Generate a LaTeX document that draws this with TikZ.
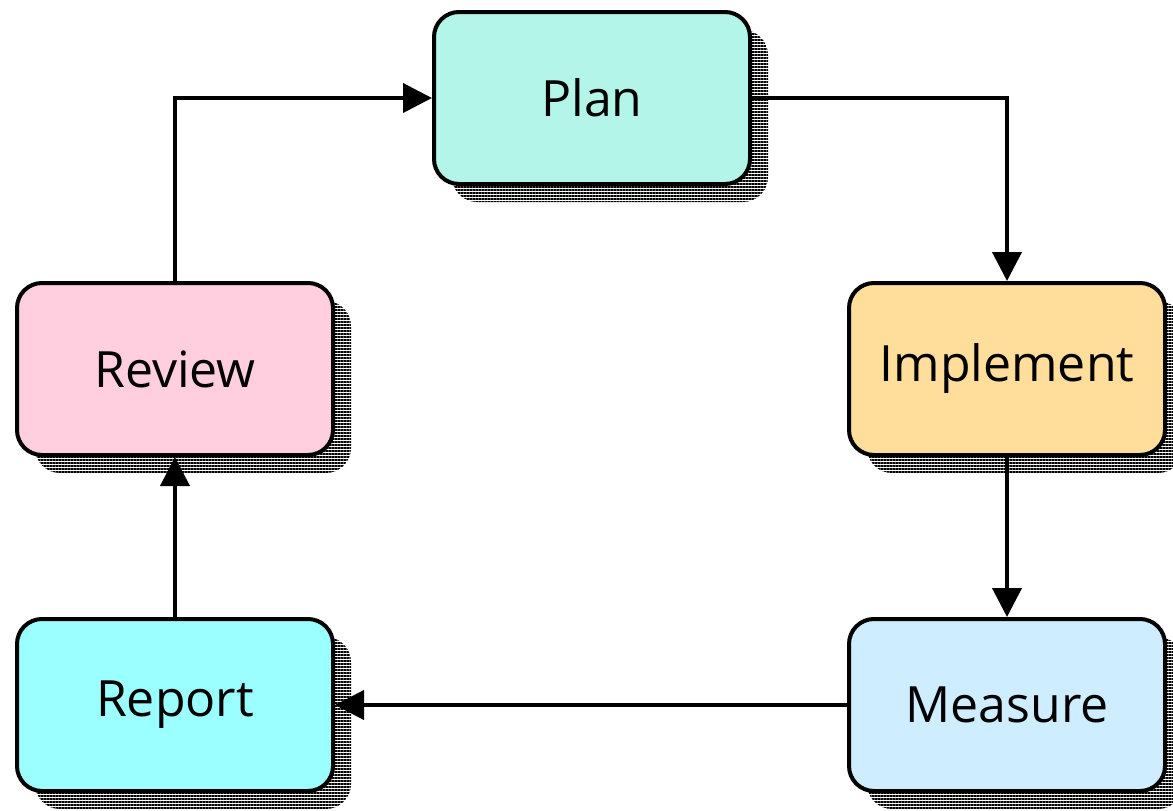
\documentclass[tikz,border=0pt]{standalone}
\usepackage{fontspec}
\setmainfont{Open Sans}
\usetikzlibrary{arrows.meta,shadows,patterns.meta}
\definecolor{plancol}{RGB}{179,245,232}
\definecolor{reviewcol}{RGB}{255,206,223}
\definecolor{implcol}{RGB}{255,222,155}
\definecolor{reportcol}{RGB}{155,255,255}
\definecolor{measurecol}{RGB}{206,238,255}

\begin{document}
\begin{tikzpicture}[x=1pt,y=-1pt,
    stage/.style={draw,line width=4pt,rounded corners=25pt,
      minimum width=316pt,minimum height=172pt,
      font=\fontsize{50}{60}\selectfont,
      general shadow={shadow xshift=18pt,shadow yshift=-18pt,draw=none,
        pattern={Lines[angle=0,distance=3pt,line width=1.6pt]}}},
    flow/.style={line width=4pt,-{Triangle[length=29pt,width=29pt]}}]
  \useasboundingbox (0,0) rectangle (1173,811);
  \node[stage,fill=plancol]    (plan)    at (592,98)   {Plan};
  \node[stage,fill=reviewcol]  (review)  at (175,369)  {Review};
  \node[stage,fill=implcol]    (impl)    at (1007,369) {Implement};
  \node[stage,fill=reportcol]  (report)  at (175,705)  {Report};
  \node[stage,fill=measurecol] (measure) at (1007,705) {Measure};
  \draw[flow] (plan.east) -| (impl.north);
  \draw[flow] (impl.south) -- (measure.north);
  \draw[flow] (measure.west) -- (report.east);
  \draw[flow] (report.north) -- (review.south);
  \draw[flow] (review.north) |- (plan.west);
\end{tikzpicture}
\end{document}
